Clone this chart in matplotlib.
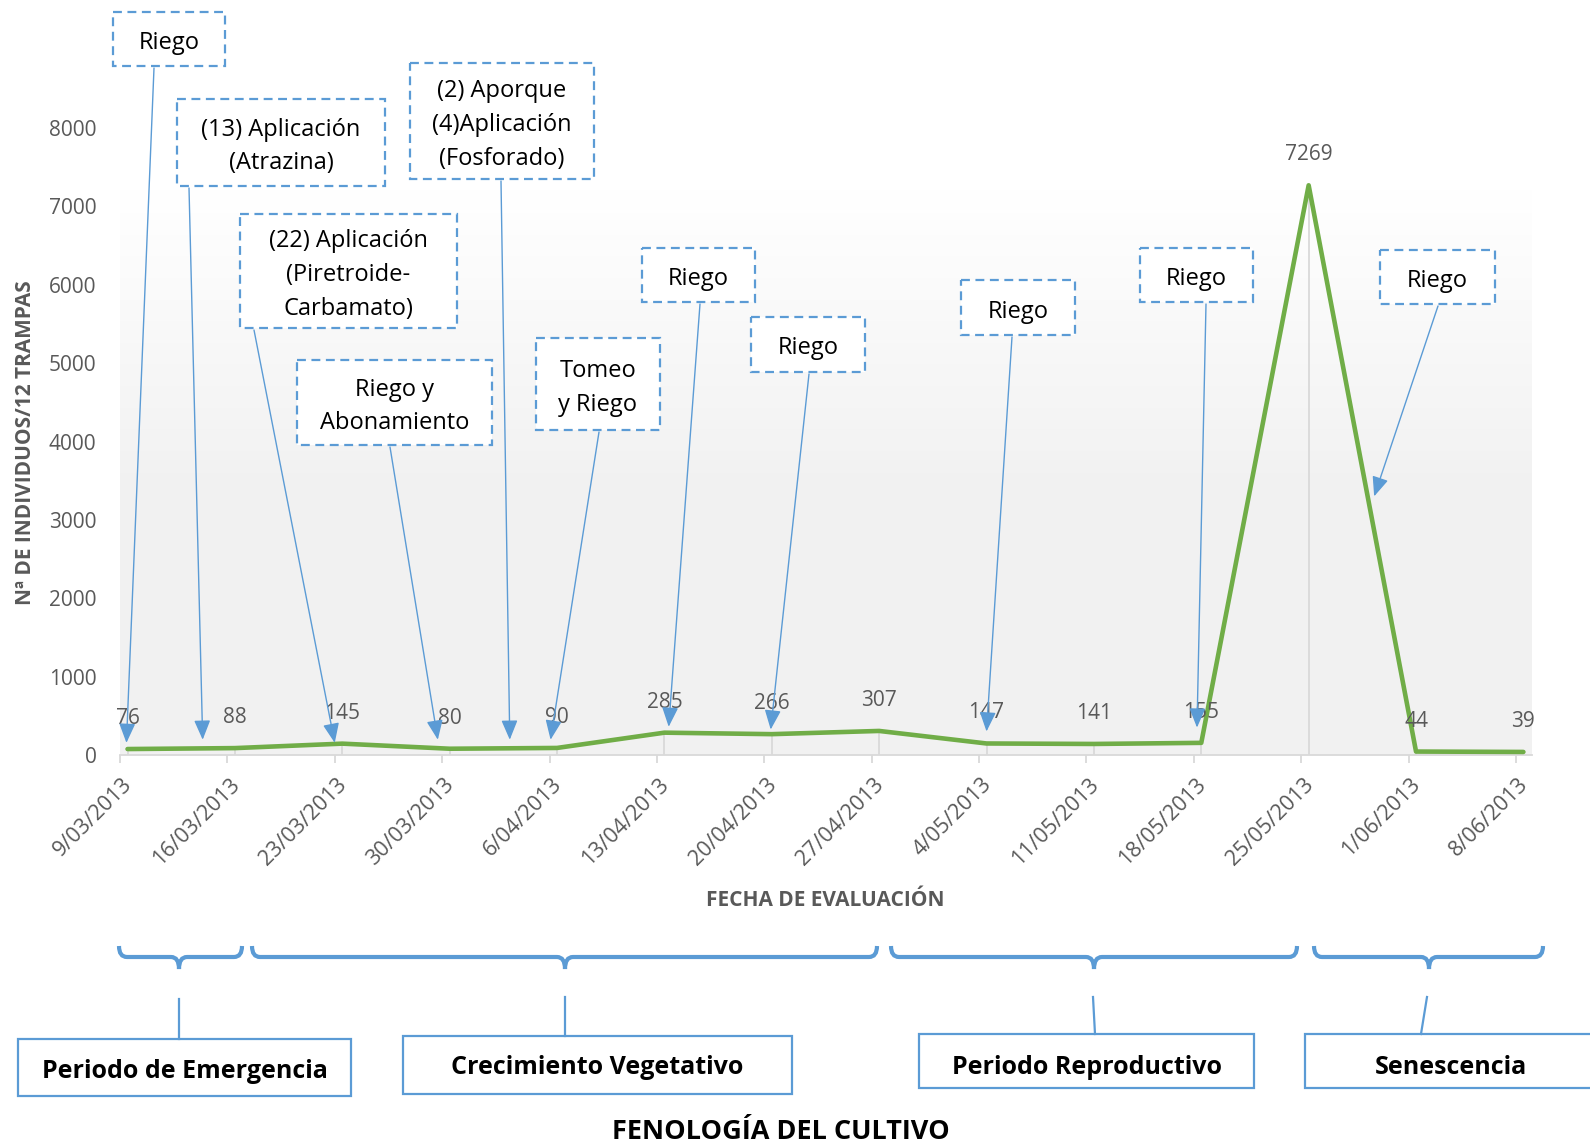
import numpy as np
import matplotlib
matplotlib.use("Agg")
import matplotlib.pyplot as plt
from matplotlib.patches import Rectangle, PathPatch
from matplotlib.path import Path
from matplotlib import transforms

plt.rcParams['font.family'] = ['Open Sans', 'DejaVu Sans']

# datos del grafico
fechas = ['9/03/2013', '16/03/2013', '23/03/2013', '30/03/2013', '6/04/2013',
          '13/04/2013', '20/04/2013', '27/04/2013', '4/05/2013', '11/05/2013',
          '18/05/2013', '25/05/2013', '1/06/2013', '8/06/2013']
individuos = [76, 88, 145, 80, 90, 285, 266, 307, 147, 141, 155, 7269, 44, 39]

# eventos de manejo (semana fraccionaria, nivel donde apunta la flecha)
eventos = ['Riego', '(13) Aplicación\n(Atrazina)',
           '(22) Aplicación\n(Piretroide-\nCarbamato)', 'Riego y\nAbonamiento',
           '(2) Aporque\n(4)Aplicación\n(Fosforado)', 'Tomeo\ny Riego',
           'Riego', 'Riego', 'Riego', 'Riego', 'Riego']
evento_semana = [0.06, 0.77, 2.0, 2.96, 3.63, 4.01, 5.11, 6.06, 8.07, 10.03, 11.68]
evento_nivel = [155, 195, 155, 195, 195, 195, 360, 325, 300, 350, 3300]

fases = ['Periodo de Emergencia', 'Crecimiento Vegetativo',
         'Periodo Reproductivo', 'Senescencia']

# --- layout en pixeles (origen arriba a la izquierda) ---
W, H = 1590, 1145
cajas = [(113, 12, 225, 66), (177, 99, 385, 186), (240, 214, 457, 328),
         (297, 360, 492, 445), (410, 63, 594, 179), (536, 338, 660, 430),
         (642, 248, 755, 302), (751, 317, 865, 372), (961, 280, 1075, 335),
         (1140, 248, 1253, 302), (1380, 250, 1495, 304)]
salida_x = [154, 189, 254, 390, 501, 599, 700, 809, 1012, 1206, 1438]

llaves = [(119, 242, 179), (252, 877, 565), (891, 1297, 1094), (1314, 1543, 1429)]
conectores = [(179, 999, 179, 1039), (565, 997, 565, 1036),
              (1093, 997, 1095, 1034), (1427, 997, 1421, 1034)]
cajas_fase = [(18, 1039, 351, 1096), (403, 1036, 792, 1094),
              (919, 1034, 1254, 1088), (1305, 1034, 1620, 1088)]
texto_fase = [(185, 1072), (597, 1068), (1087, 1067), (1451, 1067)]

azul = '#5B9BD5'
verde = '#70AD47'
gris = '#595959'

fig = plt.figure(figsize=(W / 100, H / 100), dpi=100)
ax = fig.add_axes([120 / W, 1 - 755 / H, 1412 / W, 627 / H])

# fondo degradado del area de trazado
t = np.linspace(0, 1, 300)
mezcla = np.clip((t - 0.45) / 0.45, 0, 1)
c0 = np.array([0.949, 0.949, 0.949])
c1 = np.array([1.0, 1.0, 1.0])
grad = c0[None, :] * (1 - mezcla[:, None]) + c1[None, :] * mezcla[:, None]
ax.imshow(grad[:, None, :], extent=[0, 1, 0, 1], transform=ax.transAxes,
          aspect='auto', origin='lower', zorder=0)

x = np.arange(len(fechas)) + 0.07
ax.vlines(x, 0, individuos, colors='#D9D9D9', lw=1.3, zorder=2)
ax.plot(x, individuos, color=verde, lw=3.3, zorder=3, solid_capstyle='round')

for xi, v in zip(x, individuos):
    ax.annotate(str(v), (xi, v), xytext=(0, 18), textcoords='offset points',
                ha='center', va='baseline', fontsize=15, color=gris, zorder=5)

ax.set_xlim(0, 13.15)
ax.set_ylim(0, 8000)
ax.set_yticks(range(0, 8001, 1000))
ax.set_xticks(np.arange(len(fechas)))
ax.set_xticklabels(fechas, rotation=45, ha='right', va='center',
                   rotation_mode='anchor')
ax.tick_params(axis='y', length=0, labelsize=15, labelcolor=gris, pad=17)
ax.tick_params(axis='x', length=6, width=1.3, color='#D9D9D9',
               labelsize=15.5, labelcolor=gris, pad=13)
desplaza = transforms.ScaledTranslation(0.09, 0, fig.dpi_scale_trans)
for lab in ax.get_xticklabels():
    lab.set_transform(lab.get_transform() + desplaza)
for lado in ['top', 'right', 'left']:
    ax.spines[lado].set_visible(False)
ax.spines['bottom'].set_color('#D9D9D9')
ax.spines['bottom'].set_linewidth(1.3)

# capa superior en pixeles
ov = fig.add_axes([0, 0, 1, 1])
ov.set_xlim(0, W)
ov.set_ylim(H, 0)
ov.axis('off')

for texto, (x0, y0, x1, y1), sx, sem, niv in zip(eventos, cajas, salida_x,
                                                 evento_semana, evento_nivel):
    ov.add_patch(Rectangle((x0, y0), x1 - x0, y1 - y0, facecolor='white',
                           edgecolor=azul, lw=1.6, linestyle=(0, (4, 2.5)),
                           zorder=4))
    ov.text((x0 + x1) / 2, (y0 + y1) / 2 + 4, texto, ha='center', va='center',
            fontsize=17, color='black', linespacing=1.55, zorder=5)
    ov.annotate('', xy=(sem, niv), xycoords=ax.transData,
                xytext=(sx, y1 + 2), textcoords='data',
                arrowprops=dict(arrowstyle='-|>,head_length=1.2,head_width=0.5',
                                color=azul, lw=1.0, shrinkA=0, shrinkB=0,
                                mutation_scale=10),
                zorder=3)

ov.text(26, 443, 'Nª DE INDIVIDUOS/12 TRAMPAS', rotation=90, ha='center',
        va='center', fontsize=15, fontweight='bold', color=gris)
ov.text(825, 901, 'FECHA DE EVALUACIÓN', ha='center', va='center',
        fontsize=15, fontweight='bold', color=gris)


def llave(x0, x1, xc, ytop=946, ymid=957, ytip=969, r=8):
    verts = [(x0, ytop), (x0, ymid), (x0 + r, ymid), (xc - r, ymid),
             (xc, ymid), (xc, ytip), (xc, ymid), (xc + r, ymid),
             (x1 - r, ymid), (x1, ymid), (x1, ytop)]
    codes = [Path.MOVETO, Path.CURVE3, Path.CURVE3, Path.LINETO,
             Path.CURVE3, Path.CURVE3, Path.CURVE3, Path.CURVE3,
             Path.LINETO, Path.CURVE3, Path.CURVE3]
    return PathPatch(Path(verts, codes), facecolor='none', edgecolor=azul,
                     lw=3, capstyle='butt')


for x0, x1, xc in llaves:
    ov.add_patch(llave(x0, x1, xc))
for xa, ya, xb, yb in conectores:
    ov.plot([xa, xb], [ya, yb], color=azul, lw=1.6)
for nombre, (x0, y0, x1, y1), (tx, ty) in zip(fases, cajas_fase, texto_fase):
    ov.add_patch(Rectangle((x0, y0), x1 - x0, y1 - y0, facecolor='white',
                           edgecolor=azul, lw=1.6))
    ov.text(tx, ty, nombre, ha='center', va='center', fontsize=18,
            fontweight='bold', color='black')

ov.text(781, 1132, 'FENOLOGÍA DEL CULTIVO', ha='center', va='center',
        fontsize=19.5, fontweight='bold', color='black')

fig.savefig('out.png', dpi=100)
